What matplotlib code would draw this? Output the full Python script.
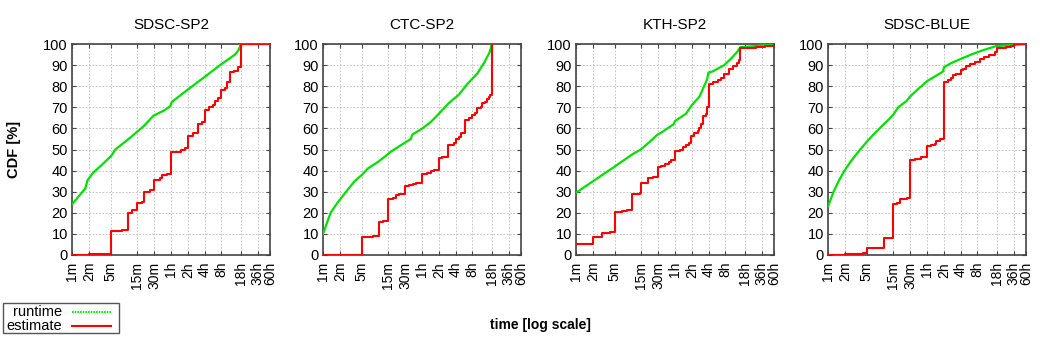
import matplotlib
matplotlib.use("Agg")
import matplotlib.pyplot as plt
from matplotlib.lines import Line2D
from matplotlib.patches import Rectangle

plt.rcParams['font.family'] = ['Liberation Sans', 'DejaVu Sans']

titles = ["SDSC-SP2", "CTC-SP2", "KTH-SP2", "SDSC-BLUE"]
tick_minutes = [1, 2, 5, 15, 30, 60, 120, 240, 480, 1080, 2160, 3600]
tick_labels = ["1m", "2m", "5m", "15m", "30m", "1h", "2h", "4h", "8h", "18h", "36h", "60h"]
y_ticks = [0, 10, 20, 30, 40, 50, 60, 70, 80, 90, 100]
legend_labels = ["runtime", "estimate"]

# runtime CDF (time in minutes, CDF %)
sp2_rt_t = [1, 1.73, 1.91, 2.4, 3.22, 5.07, 6.0, 10.4, 12.8, 19.3, 29, 45, 58, 62, 115, 230, 457, 849, 975, 1080, 3600]
sp2_rt_v = [24, 31.5, 35.5, 39, 42, 47, 50, 55, 57, 61, 66, 68.5, 70.5, 72.5, 78, 84, 90, 95, 97, 100, 100]
ctc_rt_t = [1, 1.37, 1.85, 2.6, 3.7, 5, 6.4, 9.6, 13.5, 16.6, 25, 38, 40, 61, 86, 121, 182, 276, 390, 590, 780, 980, 1080]
ctc_rt_v = [10, 20, 25, 30, 35, 38, 41, 44, 47, 49, 52, 55, 57, 60, 63, 67, 72, 76, 81, 86, 91, 96, 100]
kth_rt_t = [1, 5, 10.7, 14.6, 19.8, 29, 34, 57, 60, 95, 120, 165, 200, 225, 240, 285, 460, 605, 770, 900, 1680, 3600]
kth_rt_v = [29.5, 42, 48, 50, 53, 57, 58, 62, 63.5, 67, 71, 75, 80, 83, 86.5, 87, 90, 93, 96, 98.5, 99, 100]
blue_rt_t = [1, 1.26, 1.55, 1.98, 2.68, 3.78, 5.1, 6.5, 9.2, 12.1, 14.9, 18.3, 25.8, 29.6, 39, 47.6, 61, 88, 117, 121, 164, 247, 373, 600, 1050, 2100, 3600]
blue_rt_v = [23, 30, 35, 40, 45, 50, 54, 57, 61, 64, 66.5, 70, 73, 75, 78, 80, 82.5, 85, 87, 89, 91, 93, 95, 97, 99, 99.5, 100]

# user estimate CDF (step function, value holds from t onward)
sp2_es_t = [1, 2, 5, 8, 10, 12, 15, 18, 20, 25, 30, 38, 42, 50, 60, 90, 105, 120, 150, 180, 220, 240, 290, 340, 370, 420, 480, 560, 600, 700, 800, 950, 1080, 3600]
sp2_es_v = [0, 0.3, 11.5, 12, 20, 21.5, 24.5, 25, 30, 31, 35.5, 36.5, 38, 38.5, 49, 50, 50.5, 56.5, 58, 62, 63, 68.5, 70, 71, 73, 74.5, 78, 79, 82, 86.5, 87, 89, 100, 100]
ctc_es_t = [1, 5, 7.8, 10, 11.8, 15, 17.8, 20.4, 23.5, 30, 35.4, 40.6, 46.6, 60, 75, 86, 99, 120, 139, 178, 225, 240, 276, 296, 350, 418, 480, 535, 590, 675, 720, 825, 880, 945, 1010, 1080]
ctc_es_v = [0, 8.7, 9.2, 15.5, 16, 26.5, 27, 28.5, 29, 32.5, 33, 33.5, 34, 38.5, 39, 40, 40.5, 46, 46.5, 52, 53, 55, 56, 58, 64, 65, 66.5, 67.5, 69.5, 70, 72, 72.5, 74, 75, 76, 100]
kth_es_t = [1, 2, 2.9, 4.1, 5, 6.6, 8.1, 10, 14, 15, 20, 24.3, 30, 34.2, 39, 47, 51.5, 60, 72.6, 83, 95, 107, 117, 134, 154, 165, 177, 189, 218, 226, 240, 285, 350, 402, 460, 550, 648, 765, 830, 900, 1680, 2530, 3600]
kth_es_v = [5, 8.5, 10.3, 11, 20.5, 21, 21.5, 29, 29.5, 34, 36.5, 37, 41.5, 42, 43, 44, 45, 49.5, 50, 51, 52, 53, 56.5, 58, 59, 60, 62, 66, 67, 70, 81, 82, 83, 84, 86, 88, 89.5, 91, 92.5, 98, 98.5, 99, 99.5]
blue_es_t = [1, 2, 3.3, 4.3, 5, 6.5, 10, 15, 17.1, 20, 25.8, 30, 36.3, 47.7, 60, 72, 83, 88, 102, 120, 143, 164, 176, 202, 240, 265, 304, 349, 431, 528, 645, 793, 1000, 1080, 1570, 1920, 2160, 3600]
blue_es_v = [0, 0.3, 0.6, 1, 3.3, 3.5, 8, 24, 24.5, 26.5, 27, 45, 45.5, 46.5, 51.5, 52, 52.5, 54, 55, 82, 83, 84, 85.5, 86, 87.5, 88, 89.5, 90.5, 91.5, 93, 94, 95, 96, 98, 98.5, 99, 100, 100]

runtimes = [(sp2_rt_t, sp2_rt_v), (ctc_rt_t, ctc_rt_v), (kth_rt_t, kth_rt_v), (blue_rt_t, blue_rt_v)]
estimates = [(sp2_es_t, sp2_es_v), (ctc_es_t, ctc_es_v), (kth_es_t, kth_es_v), (blue_es_t, blue_es_v)]

GREEN = "#00e000"
RED = "#ff0000"

FW, FH = 1044, 340
fig = plt.figure(figsize=(FW / 100, FH / 100), dpi=100)
lefts = [72, 323, 576, 828]
W, H = 198, 211
bottom_px = 255

for i, left in enumerate(lefts):
    ax = fig.add_axes([left / FW, (FH - bottom_px) / FH, W / FW, H / FH])
    ax.set_xscale('log')
    ax.set_xlim(1, 3600)
    ax.set_ylim(0, 100)
    rt, rv = runtimes[i]
    et, ev = estimates[i]
    ax.plot(rt, rv, color=GREEN, lw=1.6, zorder=3)
    ax.plot(et, ev, color=RED, lw=1.5, drawstyle='steps-post', zorder=4)
    ax.set_xticks(tick_minutes)
    ax.set_xticklabels(tick_labels, rotation=90, fontsize=10)
    ax.xaxis.set_minor_locator(matplotlib.ticker.NullLocator())
    ax.set_yticks(y_ticks)
    ax.set_yticklabels([str(v) for v in y_ticks], fontsize=10.5)
    ax.tick_params(direction='in', length=3, width=0.8, top=True, right=True, color="#444444")
    ax.tick_params(axis='x', pad=5)
    ax.tick_params(axis='y', pad=3)
    ax.grid(True, color="#bbbbbb", linestyle=(0, (2, 2)), linewidth=0.6)
    ax.set_axisbelow(True)
    for s in ax.spines.values():
        s.set_color("#444444")
        s.set_linewidth(1.2)
    ax.set_title(titles[i], fontsize=11, pad=11)
    if i == 0:
        ax.set_ylabel("CDF [%]", fontsize=10.5, fontweight='bold')
        ax.yaxis.set_label_coords((21 - 72) / W, 0.5)

fig.text(540 / FW, 1 - 325 / FH, "time [log scale]", ha='center', va='center', fontsize=10, fontweight='bold')

# gnuplot-style key: label right-aligned, then line sample, inside a box
box = Rectangle((3 / FW, 1 - 333 / FH), 116 / FW, 30 / FH, transform=fig.transFigure,
                facecolor='white', edgecolor='#555555', linewidth=1.0)
fig.patches.append(box)
row_y = [311.5, 326]
styles = [dict(color=GREEN, lw=1.2, linestyle=(0, (1, 0.6))), dict(color=RED, lw=1.5)]
for lab, yy, st in zip(legend_labels, row_y, styles):
    fig.text(62 / FW, 1 - yy / FH, lab, ha='right', va='center', fontsize=10.5)
    fig.lines.append(Line2D([72 / FW, 111 / FW], [1 - yy / FH, 1 - yy / FH], transform=fig.transFigure, **st))

fig.savefig("out.png", dpi=100)
